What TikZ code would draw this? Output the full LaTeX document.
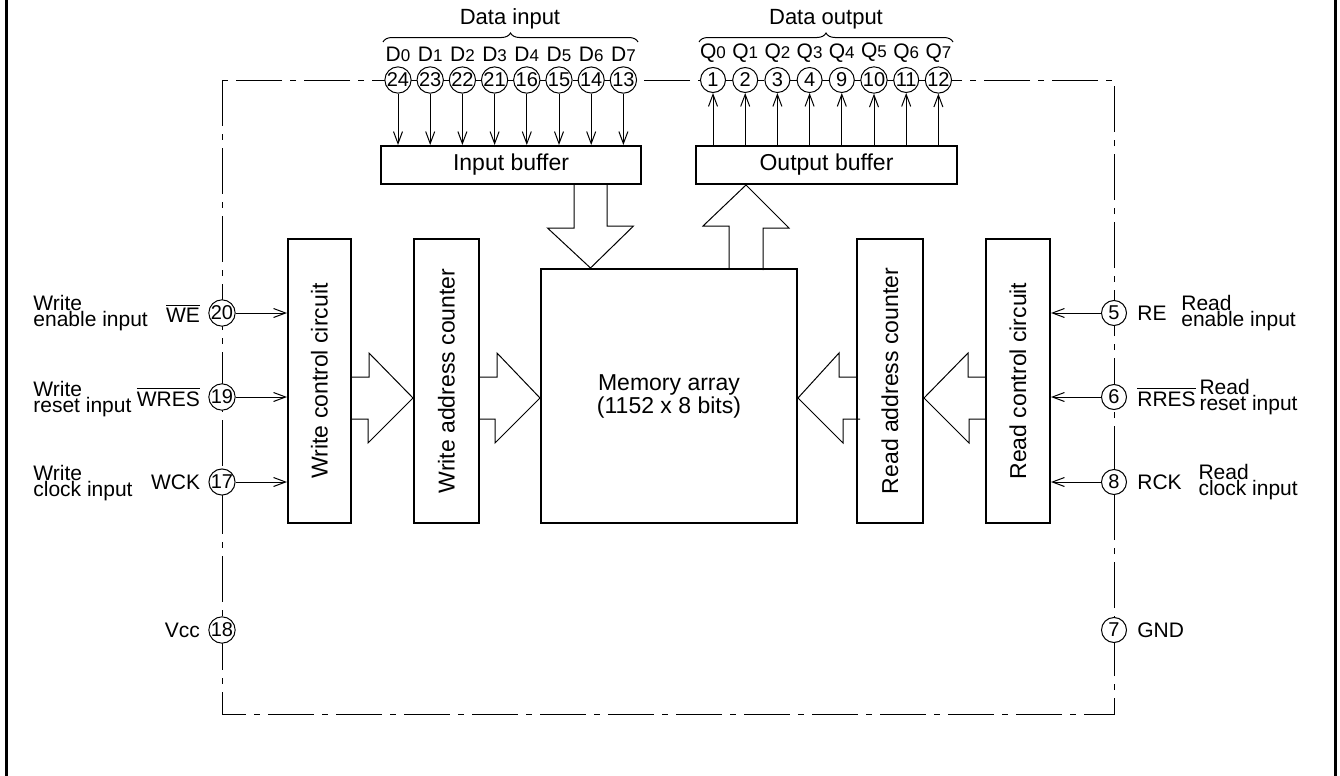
\documentclass[tikz,border=0pt]{standalone}
\usepackage{fontspec}
\setmainfont{Liberation Sans}
\usetikzlibrary{arrows.meta, positioning, calc, decorations.pathreplacing}

\tikzset{
  blk/.style={draw, line width=1pt, inner sep=0pt, font=\fontsize{11.5}{11.5}\selectfont},
  pin/.style={draw, circle, line width=0.5pt, fill=white, minimum size=12.5pt, inner sep=0pt, font=\fontsize{10}{10}\selectfont},
  sig/.style={line width=0.5pt, -{Straight Barb[length=6pt,width=4.5pt]}},
  fat/.style={line width=0.5pt},
  chain/.style={line width=0.5pt, dash pattern=on 23pt off 4pt on 3pt off 4pt},
  desc/.style={align=left, inner sep=0pt, font=\fontsize{10.5}{8}\selectfont},
}
\newcommand{\pinsub}[1]{{\fontsize{8.5}{9}\selectfont #1}}

\begin{document}
\begin{tikzpicture}[x=0.5pt, y=-0.5pt, font=\fontsize{10.5}{12}\selectfont]
\useasboundingbox (0,0) rectangle (1340,776);

\newcommand{\pinsep}{32.2}
\newcommand{\shaftw}{21}
\newcommand{\headw}{45}

% sheet edges
\draw [line width=1.5pt] (6,0) -- (6,776);
\draw [line width=1.5pt] (1335,0) -- (1335,776);

% package outline
\draw [chain] (222,80) rectangle (1114,714);

% blocks
\node [blk, minimum width=130pt, minimum height=19pt] (inbuf) at (511,165) {Input buffer};
\node [blk, minimum width=130.5pt, minimum height=19pt] (outbuf) at (826.5,165) {Output buffer};
\node [blk, minimum width=128pt, minimum height=127pt, align=center] (mem) at (669,396) {Memory array\\(1152 x 8 bits)};
\node [blk, minimum width=31.5pt, minimum height=142pt] (wctl) at (319.5,381) {\rotatebox{90}{Write control circuit}};
\node [blk, minimum width=32.5pt, minimum height=142pt] (wadr) at (446.5,381) {\rotatebox{90}{Write address counter}};
\node [blk, minimum width=33pt, minimum height=142pt] (radr) at (890,381) {\rotatebox{90}{Read address counter}};
\node [blk, minimum width=32pt, minimum height=142pt] (rctl) at (1018,381) {\rotatebox{90}{Read control circuit}};

% data pins
\foreach \i/\n in {0/24,1/23,2/22,3/21,4/16,5/15,6/14,7/13}
{
\node [pin] (d\i) at ({398+\i*\pinsep},80) {\n};
\node [inner sep=0pt, above=2pt of d\i] (ld\i) {D\pinsub{\i}};
\draw [sig] (d\i) -- (d\i |- inbuf.north);
}
\foreach \i/\n in {0/1,1/2,2/3,3/4,4/9,5/10,6/11,7/12}
{
\node [pin] (q\i) at ({713+\i*\pinsep},80) {\n};
\node [inner sep=0pt, above=2pt of q\i] (lq\i) {Q\pinsub{\i}};
\draw [sig] (q\i |- outbuf.north) -- (q\i);
}
\foreach \i in {1,...,7}
{
\pgfmathtruncatemacro{\k}{\i-1}
\draw [line width=0.5pt] (d\k) -- (d\i);
\draw [line width=0.5pt] (q\k) -- (q\i);
}

\draw [decorate, decoration={brace, amplitude=4.5pt}, line width=0.5pt] (383,42) -- (638,42);
\draw [decorate, decoration={brace, amplitude=4.5pt}, line width=0.5pt] (699,42) -- (953,42);
\node [font=\fontsize{11}{12}\selectfont] (din) at (510,19) {Data input};
\node [font=\fontsize{11}{12}\selectfont] (dout) at (826,19) {Data output};

% side pins
\node [pin] (pwe) at (222,313) {20};
\node [pin] (pwres) at (222,397) {19};
\node [pin] (pwck) at (222,482) {17};
\node [pin] (pvcc) at (222,630) {18};
\node [pin] (pre) at (1114,313) {5};
\node [pin] (prres) at (1114,397) {6};
\node [pin] (prck) at (1114,482) {8};
\node [pin] (pgnd) at (1114,630) {7};

\node [inner sep=0pt, left=4pt of pwe] (nwe) {$\overline{\mbox{WE}}$};
\node [inner sep=0pt, left=4pt of pwres] (nwres) {$\overline{\mbox{WRES}}$};
\node [inner sep=0pt, left=4pt of pwck] (nwck) {WCK};
\node [inner sep=0pt, left=4pt of pvcc] (nvcc) {Vcc};
\node [inner sep=0pt, right=5pt of pre] (nre) {RE};
\node [inner sep=0pt, right=5pt of prres] (nrres) {$\overline{\mbox{RRES}}$};
\node [inner sep=0pt, right=5pt of prck] (nrck) {RCK};
\node [inner sep=0pt, right=5pt of pgnd] (ngnd) {GND};

\node [desc, anchor=west] (twe) at (33,313) {Write\\enable input};
\node [desc, anchor=west] (twres) at (33,399) {Write\\reset input};
\node [desc, anchor=west] (twck) at (33,483) {Write\\clock input};
\node [desc, right=7pt of nre] (tre) {Read\\enable input};
\node [desc, right=1.5pt of nrres] (trres) {Read\\reset input};
\node [desc, right=8pt of nrck] (trck) {Read\\clock input};

\draw [sig] (pwe) -- (pwe -| wctl.west);
\draw [sig] (pwres) -- (pwres -| wctl.west);
\draw [sig] (pwck) -- (pwck -| wctl.west);
\draw [sig] (pre) -- (pre -| rctl.east);
\draw [sig] (prres) -- (prres -| rctl.east);
\draw [sig] (prck) -- (prck -| rctl.east);

% wide bus arrows
\coordinate (fy) at (0,398);
\coordinate (inarr) at (590.5,0);
\coordinate (outarr) at (746,0);
\newcommand{\fatright}[2]{\draw [fat] ($(#1)+(0,-\shaftw)$) -| ++(17,-24) -- (#2) -- ++(-\headw,\headw) |- ++(-17,-24);}
\newcommand{\fatleft}[2]{\draw [fat] ($(#1)+(0,-\shaftw)$) -| ++(-17,-24) -- (#2) -- ++(\headw,\headw) |- ++(17,-24);}
\fatright{wctl.east |- fy}{wadr.west |- fy}
\fatright{wadr.east |- fy}{mem.west |- fy}
\fatleft{radr.west |- fy}{mem.east |- fy}
\fatleft{rctl.west |- fy}{radr.east |- fy}
\draw [fat] ($(inarr |- inbuf.south)+(-16.5,0)$) |- ++(-26.5,43) -- (inarr |- mem.north) -- ++(43,-42) -| ++(-26.5,-43);
\draw [fat] ($(outarr |- mem.north)+(-17,0)$) |- ++(-26,-42) -- (outarr |- outbuf.south) -- ++(43,43) -| ++(-26,42);

\end{tikzpicture}
\end{document}
